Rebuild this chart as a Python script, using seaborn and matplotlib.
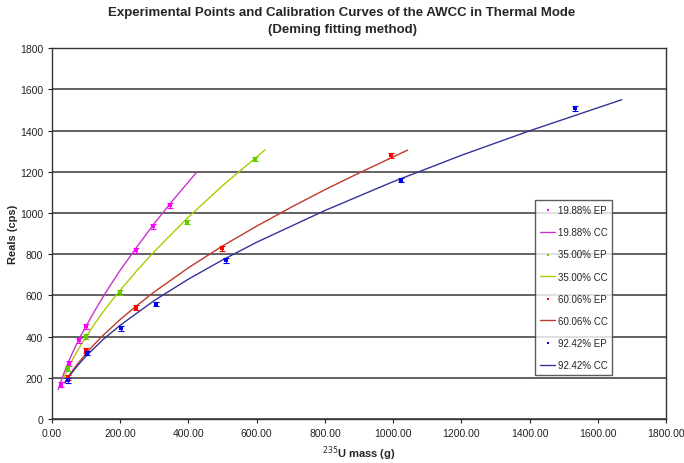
import pandas as pd
import seaborn as sns
import matplotlib.pyplot as plt

sns.set_style("white")
plt.rcParams['font.family'] = ['Liberation Sans Narrow', 'Liberation Sans', 'DejaVu Sans']

# Experimental points (235U mass in g, Reals in cps)
ep_1988_x = [26, 50, 79, 99, 245, 295, 345]
ep_1988_y = [165, 267, 383, 451, 820, 936, 1038]
ep_3500_x = [47, 99, 199, 397, 596]
ep_3500_y = [243, 398, 616, 956, 1262]
ep_6006_x = [47, 99, 245, 497, 993]
ep_6006_y = [199, 330, 539, 829, 1279]
ep_9242_x = [47, 103, 201, 306, 510, 1022, 1533]
ep_9242_y = [188, 320, 441, 558, 771, 1160, 1509]
ep_err = 12

# Calibration curves
cc_1988_x = [18, 24, 30, 40, 50, 62, 75, 87, 100, 125, 150, 175, 200, 250, 300, 350, 423]
cc_1988_y = [142, 172, 200, 243, 283, 328, 372, 412, 451, 524, 594, 659, 722, 838, 949, 1053, 1196]
cc_3500_x = [35, 42, 50, 62, 75, 87, 100, 125, 150, 175, 200, 250, 300, 400, 500, 625]
cc_3500_y = [202, 227, 255, 294, 331, 366, 400, 462, 520, 574, 625, 722, 813, 980, 1133, 1307]
cc_6006_x = [38, 50, 62, 75, 100, 125, 150, 200, 250, 300, 400, 500, 600, 700, 800, 900, 1042]
cc_6006_y = [178, 210, 239, 267, 318, 364, 406, 483, 552, 617, 734, 840, 936, 1027, 1113, 1194, 1305]
cc_9242_x = [38, 50, 62, 75, 100, 150, 200, 300, 400, 500, 600, 800, 1000, 1200, 1400, 1670]
cc_9242_y = [175, 205, 232, 259, 305, 386, 455, 575, 679, 772, 858, 1012, 1152, 1280, 1399, 1550]

labels = ['19.88%', '35.00%', '60.06%', '92.42%']
ep_colors = ['#ff00ff', '#66cc00', '#ff0000', '#0000ee']
cc_colors = ['#cc33cc', '#aacc00', '#c0392b', '#333399']

eps = [(ep_1988_x, ep_1988_y), (ep_3500_x, ep_3500_y), (ep_6006_x, ep_6006_y), (ep_9242_x, ep_9242_y)]
ccs = [(cc_1988_x, cc_1988_y), (cc_3500_x, cc_3500_y), (cc_6006_x, cc_6006_y), (cc_9242_x, cc_9242_y)]

fig = plt.figure(figsize=(6.84, 4.64), dpi=100)
ax = fig.add_axes([0.076, 0.095, 0.898, 0.799])

for lab, (ex, ey), (cx, cy), ec, cc in zip(labels, eps, ccs, ep_colors, cc_colors):
    ep = pd.DataFrame({'mass': ex, 'reals': ey})
    cdf = pd.DataFrame({'mass': cx, 'reals': cy})
    ax.errorbar(ep['mass'], ep['reals'], yerr=ep_err, fmt='none', ecolor=ec,
                elinewidth=0.8, capsize=2, capthick=0.8, zorder=4)
    sns.scatterplot(data=ep, x='mass', y='reals', ax=ax, color=ec, marker='s', s=6,
                    linewidth=0, label=lab + ' EP', zorder=5)
    sns.lineplot(data=cdf, x='mass', y='reals', ax=ax, color=cc, linewidth=1.0,
                 sort=False, estimator=None, label=lab + ' CC', zorder=3)

ax.set_xlim(0, 1800)
ax.set_ylim(0, 1800)
ax.set_xticks(range(0, 1801, 200))
ax.set_xticklabels([f'{v:.2f}' for v in range(0, 1801, 200)])
ax.set_yticks(range(0, 1801, 200))
ax.tick_params(axis='both', labelsize=7.5, direction='out', length=3, width=0.8,
               bottom=True, left=True, colors='#222222')
ax.yaxis.grid(True, color='#555555', linewidth=1.3)
ax.xaxis.grid(False)
for sp in ax.spines.values():
    sp.set_color('#333333')
    sp.set_linewidth(1.0)

ax.set_xlabel('$^{235}$U mass (g)', fontsize=8, fontweight='bold', labelpad=4)
ax.set_ylabel('Reals (cps)', fontsize=8, fontweight='bold', labelpad=1)
fig.suptitle('Experimental Points and Calibration Curves of the AWCC in Thermal Mode\n(Deming fitting method)',
             fontsize=9.5, fontweight='bold', y=0.985, linespacing=1.6)

leg = ax.legend(loc='upper left', bbox_to_anchor=(0.787, 0.59), fontsize=7, frameon=True,
                fancybox=False, edgecolor='#333333', handlelength=1.5, handletextpad=0.3,
                labelspacing=1.25, borderpad=0.5, borderaxespad=0, markerscale=0.6)
leg.get_frame().set_linewidth(1.0)

fig.savefig('out.png', dpi=100)
